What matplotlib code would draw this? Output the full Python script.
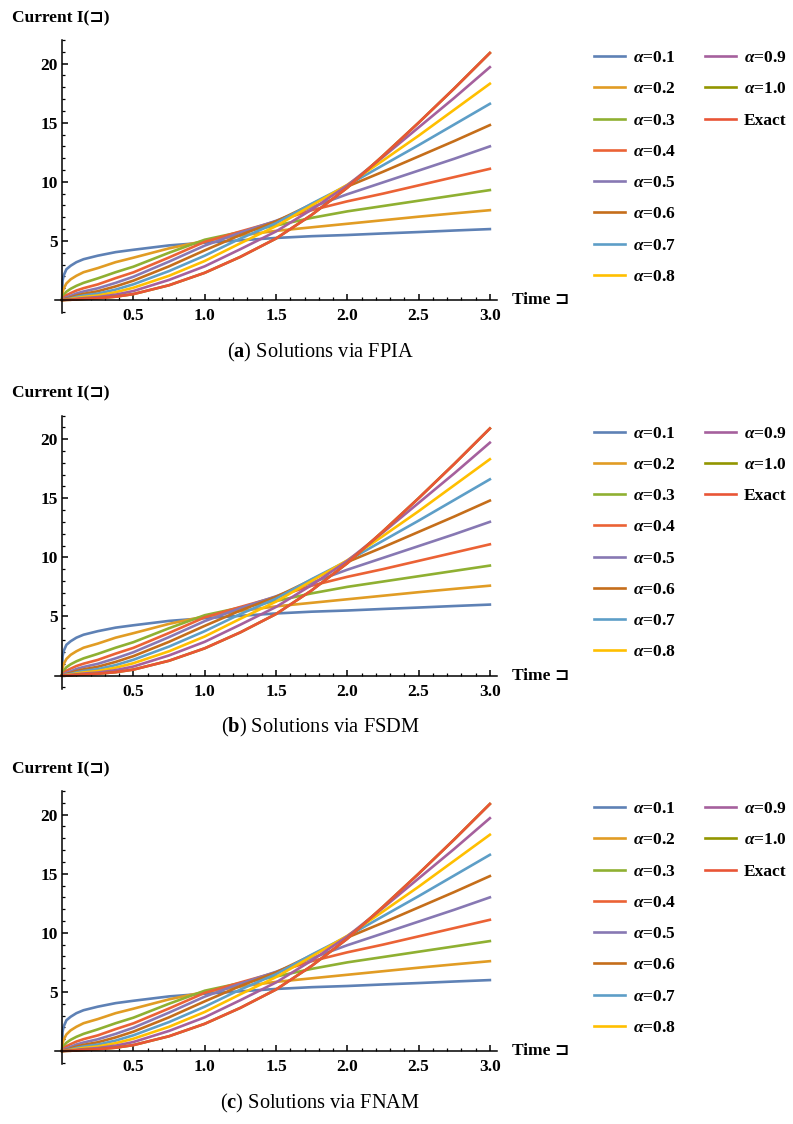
import matplotlib
matplotlib.use("Agg")
import matplotlib.pyplot as plt
from matplotlib.ticker import MultipleLocator, FixedLocator

plt.rcParams['font.family'] = ['Liberation Serif', 'DejaVu Sans']
plt.rcParams['mathtext.fontset'] = 'custom'
plt.rcParams['mathtext.it'] = 'Liberation Serif:italic:bold'
plt.rcParams['mathtext.bf'] = 'Liberation Serif:bold'
plt.rcParams['mathtext.rm'] = 'Liberation Serif'

# time grid
t = [0, 0.003, 0.01, 0.03, 0.06, 0.1, 0.15, 0.25, 0.375, 0.5,
     0.75, 1.0, 1.25, 1.5, 1.75, 2.0, 2.25, 2.5, 2.75, 3.0]

a01 = [0, 1.6, 2.05, 2.6, 2.9, 3.2, 3.45, 3.75, 4.05, 4.25,
       4.62, 4.85, 5.05, 5.25, 5.4, 5.5, 5.63, 5.75, 5.88, 6.0]
a02 = [0, 0.6, 0.95, 1.4, 1.75, 2.05, 2.35, 2.7, 3.2, 3.58,
       4.37, 5.0, 5.45, 5.85, 6.15, 6.45, 6.75, 7.05, 7.33, 7.6]
a03 = [0, 0.2, 0.4, 0.7, 0.95, 1.2, 1.45, 1.83, 2.35, 2.82,
       4.0, 5.1, 5.75, 6.3, 6.95, 7.5, 7.95, 8.4, 8.85, 9.3]
a04 = [0, 0.08, 0.2, 0.4, 0.58, 0.8, 1.0, 1.32, 1.85, 2.34,
       3.6, 4.92, 5.8, 6.65, 7.6, 8.35, 9.0, 9.7, 10.4, 11.1]
a05 = [0, 0.04, 0.1, 0.22, 0.35, 0.55, 0.72, 0.99, 1.45, 1.97,
       3.25, 4.6, 5.7, 6.7, 7.85, 8.95, 9.95, 10.95, 11.95, 13.0]
a06 = [0, 0.02, 0.05, 0.12, 0.22, 0.38, 0.52, 0.74, 1.15, 1.64,
       2.85, 4.2, 5.5, 6.65, 8.1, 9.6, 10.85, 12.15, 13.45, 14.8]
a07 = [0, 0.01, 0.03, 0.07, 0.13, 0.26, 0.38, 0.54, 0.88, 1.33,
       2.45, 3.75, 5.2, 6.5, 8.15, 9.7, 11.4, 13.1, 14.85, 16.6]
a08 = [0, 0.005, 0.015, 0.04, 0.08, 0.17, 0.26, 0.38, 0.66, 1.04,
       2.05, 3.3, 4.8, 6.25, 8.0, 9.75, 11.8, 13.9, 16.1, 18.3]
a09 = [0, 0.002, 0.008, 0.02, 0.04, 0.1, 0.16, 0.25, 0.45, 0.76,
       1.7, 2.85, 4.3, 5.8, 7.65, 9.7, 12.1, 14.6, 17.1, 19.7]
a10 = [0, 0.001, 0.003, 0.01, 0.02, 0.05, 0.09, 0.15, 0.28, 0.5,
       1.25, 2.3, 3.65, 5.2, 7.2, 9.5, 12.2, 15.0, 17.9, 20.9]
exact = [0, 0.001, 0.003, 0.01, 0.02, 0.05, 0.09, 0.15, 0.28, 0.5,
         1.25, 2.3, 3.65, 5.2, 7.2, 9.5, 12.2, 15.0, 17.9, 20.9]

series = [a01, a02, a03, a04, a05, a06, a07, a08, a09, a10, exact]
labels = [r'$\alpha$=0.1', r'$\alpha$=0.2', r'$\alpha$=0.3', r'$\alpha$=0.4',
          r'$\alpha$=0.5', r'$\alpha$=0.6', r'$\alpha$=0.7', r'$\alpha$=0.8',
          r'$\alpha$=0.9', r'$\alpha$=1.0', 'Exact']
colors = ['#5E81B5', '#E19C24', '#8FB032', '#EB6235', '#8778B3', '#C56E1A',
          '#5D9EC7', '#FFBF00', '#A5609D', '#929600', '#E95536']

panels = [('a', 'FPIA'), ('b', 'FSDM'), ('c', 'FNAM')]
xticks = [0.5, 1.0, 1.5, 2.0, 2.5, 3.0]
yticks = [5, 10, 15, 20]

W, H = 793, 1124
fs = 12.5
fig = plt.figure(figsize=(W / 100, H / 100), dpi=100)

for k, (letter, method) in enumerate(panels):
    dy = k * 375.5  # pixel offset of each panel
    ax = fig.add_axes([55 / W, 1 - (313 + dy) / H, 442 / W, 273 / H])
    handles = []
    for vals, c, lab in zip(series, colors, labels):
        ln, = ax.plot(t, vals, color=c, lw=1.9, label=lab)
        handles.append(ln)
    ax.set_xlim(-0.05, 3.05)
    ax.set_ylim(-1.1, 22)
    for s in ['top', 'right']:
        ax.spines[s].set_visible(False)
    ax.spines['left'].set_position(('data', 0))
    ax.spines['bottom'].set_position(('data', 0))
    for s in ['left', 'bottom']:
        ax.spines[s].set_linewidth(1.1)
    ax.xaxis.set_major_locator(FixedLocator(xticks))
    ax.set_xticklabels(['%.1f' % v for v in xticks])
    ax.xaxis.set_minor_locator(FixedLocator([i / 10 for i in range(1, 31)]))
    ax.yaxis.set_major_locator(FixedLocator(yticks))
    ax.set_yticklabels([str(v) for v in yticks])
    ax.yaxis.set_minor_locator(MultipleLocator(1))
    ax.tick_params(which='major', direction='in', length=4.5, width=1.1,
                   labelsize=fs)
    ax.tick_params(which='minor', direction='in', length=2.3, width=0.9)
    ax.tick_params(axis='x', pad=6)
    ax.tick_params(axis='y', pad=3)
    for lbl in ax.get_xticklabels() + ax.get_yticklabels():
        lbl.set_fontweight('bold')

    fig.text(12 / W, 1 - (18 + dy) / H, 'Current I(⊐)', fontsize=fs,
             fontweight='bold', va='center', ha='left')
    fig.text(512 / W, 1 - (300 + dy) / H, 'Time ⊐', fontsize=fs,
             fontweight='bold', va='center', ha='left')

    leg_kw = dict(loc='upper left', bbox_transform=fig.transFigure,
                  frameon=False, handlelength=1.78, handletextpad=0.46,
                  labelspacing=0.87, borderpad=0, borderaxespad=0,
                  prop={'weight': 'bold', 'size': fs})
    leg1 = ax.legend(handles[:8], labels[:8],
                     bbox_to_anchor=(594 / W, 1 - (50 + dy) / H), **leg_kw)
    ax.add_artist(leg1)
    ax.legend(handles[8:], labels[8:],
              bbox_to_anchor=(705 / W, 1 - (50 + dy) / H), **leg_kw)

    fig.text(320 / W, 1 - (352 + dy) / H,
             r'($\mathbf{%s}$) Solutions via %s' % (letter, method),
             fontsize=14.7, ha='center', va='center')

fig.savefig('out.png', dpi=100)
